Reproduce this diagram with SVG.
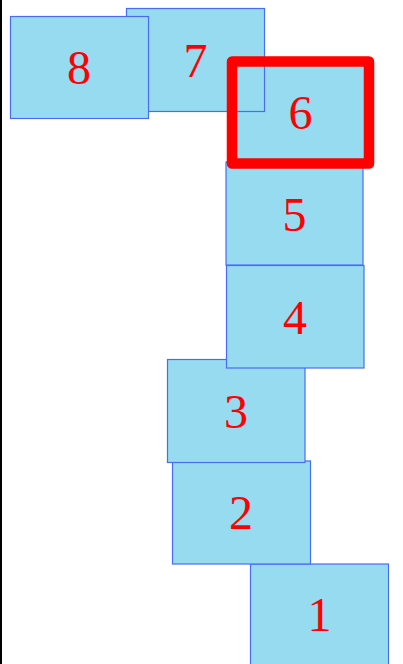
<svg xmlns="http://www.w3.org/2000/svg" width="403" height="664" viewBox="0 0 403 664">
<style>
.box{fill:#97dbf1;stroke:#4a6cf5;stroke-width:1.2}
.lbl{fill:#ff0000;font-family:"Liberation Serif","DejaVu Serif",serif;font-size:48px;text-anchor:middle}
.hl{fill:none;stroke:#ff0000;stroke-width:10.5;stroke-linejoin:round}
</style>
<rect x="0" y="0" width="403" height="664" fill="#ffffff"/>
<line x1="1" y1="0" x2="1" y2="664" stroke="#000000" stroke-width="2"/>
<g id="node-1"><rect class="box" x="250.5" y="564" width="138" height="103"/><text class="lbl" x="319.5" y="631">1</text></g>
<g id="node-2"><rect class="box" x="172.5" y="461" width="138" height="103"/><text class="lbl" x="241" y="529">2</text></g>
<g id="node-3"><rect class="box" x="167.5" y="359.5" width="137.5" height="103"/><text class="lbl" x="236" y="427.5">3</text></g>
<g id="node-4"><rect class="box" x="226.5" y="265.5" width="137.5" height="102.5"/><text class="lbl" x="295" y="334">4</text></g>
<g id="node-5"><rect class="box" x="226" y="162" width="137" height="103"/><text class="lbl" x="294.5" y="230.5">5</text></g>
<g id="node-6"><rect class="box" x="232" y="61.5" width="137" height="102"/><text class="lbl" x="300.5" y="129">6</text></g>
<g id="node-7"><rect class="box" x="126.5" y="8.5" width="138" height="103"/><text class="lbl" x="195.5" y="77">7</text></g>
<g id="node-8"><rect class="box" x="10.5" y="16.5" width="138" height="102"/><text class="lbl" x="79" y="84">8</text></g>
<g id="highlight"><rect class="hl" x="232" y="61.5" width="137" height="102"/></g>
<g id="connectors"></g>
</svg>
